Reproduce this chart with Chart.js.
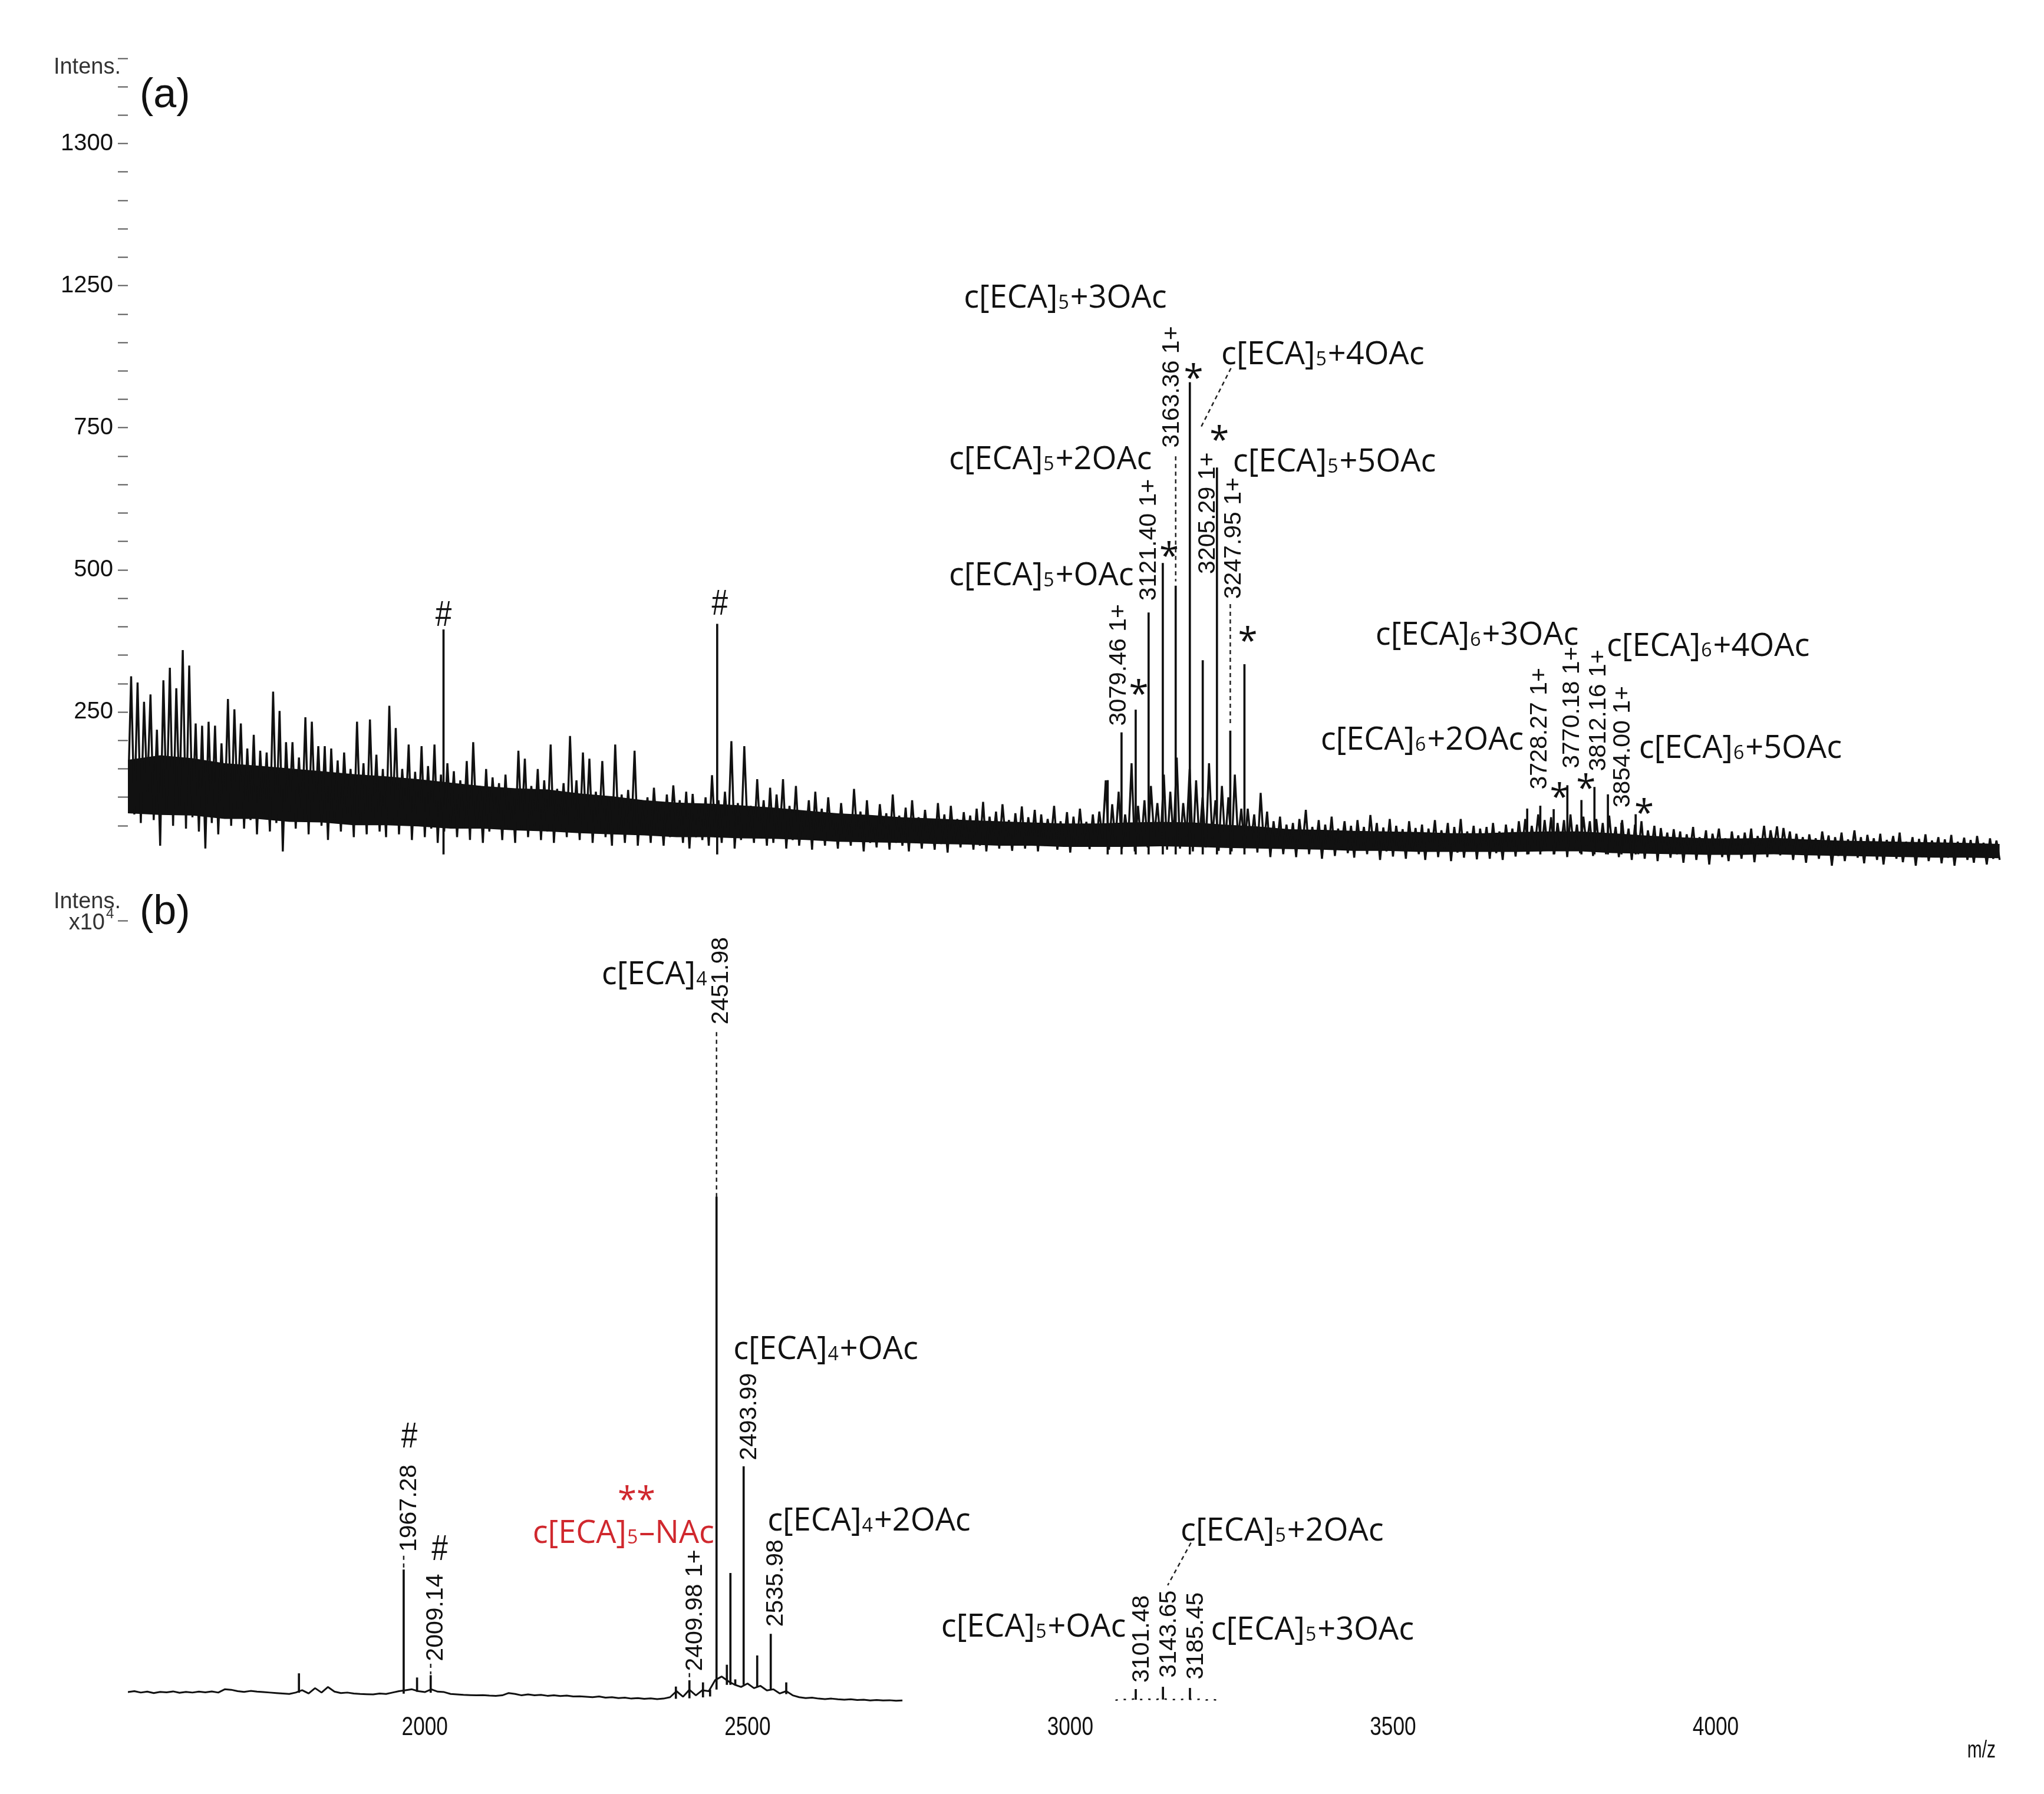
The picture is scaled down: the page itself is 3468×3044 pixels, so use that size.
<!DOCTYPE html>
<html>
<head>
<meta charset="utf-8">
<title>MALDI spectra (a) / (b)</title>
<script src="https://cdn.jsdelivr.net/npm/chart.js@4.4.1/dist/chart.umd.min.js"></script>
<style>
html, body { margin: 0; padding: 0; background: #fff; }
#wrap { position: relative; width: 3468px; height: 3044px; background: #fff; overflow: hidden; }
canvas { position: absolute; left: 0; }
#chartA { top: 0; }
#chartB { top: 1500px; }
</style>
</head>
<body>
<div id="wrap">
  <canvas id="chartA" width="3468" height="1530"></canvas>
  <canvas id="chartB" width="3468" height="1544"></canvas>
</div>
<script>
// m/z range shared by both spectra
const mzMin = 1540;
const mzMax = 4442;

// (a) trace, one value every 5 m/z starting at 1540
const traceAStart = 1540;
const traceAStep = 5;
const traceA = [
  90,313,70,302,55,268,110,281,60,219,15,306,75,328,50,292,85,359,45,332,
  65,230,40,226,10,233,55,226,35,195,70,273,50,255,80,230,45,186,60,210,
  35,182,70,179,40,286,55,252,5,197,75,197,45,170,60,241,35,233,65,190,
  50,190,25,186,60,165,40,179,70,150,30,233,55,160,35,237,60,175,40,150,
  30,261,55,222,35,150,60,193,25,145,50,190,30,155,45,193,20,140,40,160,
  55,146,30,130,45,164,25,197,50,120,20,150,40,135,60,125,25,140,45,115,
  20,182,45,168,30,120,50,150,25,130,40,193,20,115,45,125,30,208,55,130,
  25,179,40,168,20,110,45,164,30,100,15,193,40,105,20,113,35,182,15,95,
  40,100,20,117,35,90,15,105,30,121,45,95,20,110,10,106,30,85,25,100,
  15,139,30,95,20,110,35,199,10,90,25,190,40,85,20,132,30,95,15,117,
  20,105,35,132,10,85,25,120,15,75,30,95,8,110,25,80,15,100,30,70,
  10,90,25,70,15,115,30,75,5,95,20,65,12,88,28,72,8,105,20,68,
  15,82,5,95,22,65,10,78,25,60,8,90,18,70,3,85,20,62,12,74,
  22,68,8,80,15,92,5,66,20,75,10,88,25,60,6,72,18,84,10,65,
  20,78,5,70,15,62,24,85,8,58,18,74,3,66,14,80,22,57,9,70,
  15,75,28,130,8,88,20,110,10,70,25,160,5,85,18,95,12,120,30,90,
  20,140,8,110,25,170,10,90,30,150,5,130,22,100,12,160,28,95,6,120,
  18,100,5,140,25,80,10,80,20,70,3,108,15,75,-5,58,12,66,0,52,
  10,55,-5,62,15,78,0,48,12,60,-8,52,8,66,-3,45,14,58,2,50,
  -6,60,10,48,0,69,12,55,-10,47,5,62,-4,50,9,44,-8,58,6,46,
  0,52,-10,45,8,60,-5,42,10,55,-12,48,3,62,-6,40,7,50,-9,45,
  5,48,-8,55,2,40,-10,52,6,45,-4,58,10,62,0,50,15,70,5,60,
  8,65,0,55,12,60,-5,70,10,52,2,66,15,58,-3,62,8,55,0,68,
  10,48,-5,60,5,45,-10,52,0,58,-8,42,6,50,-12,46,3,38,-6,44,
  0,40,-15,35,5,48,-10,30,2,42,-18,36,8,45,-5,28,-12,40,3,33,
  -8,38,0,45,-14,32,6,50,-5,42,10,49,-2,46,8,40,-10,36,4,30,
  -15,35,0,28,-8,40,5,33,-20,30,-3,38,-12,26,2,42,-6,30,-16,34,
  0,28,-10,36,-18,25,4,32,-8,38,-14,22,0,30,-20,27,-5,35,-12,24,
  2,30,-16,26,-6,34,-20,22,0,29,-10,25,-15,32,-4,20,-18,28,-8,24,
  -10
];

// (a) darkest part of the noise (solid core), lower and upper edge every 50 m/z from 1540
const bandStart = 1540;
const bandStep = 50;
const bandLoA = [72, 69, 68, 62, 62, 57, 56, 51, 51, 49, 45, 45, 42, 40, 37, 35, 33, 30, 30, 28,
                 27, 25, 22, 21, 20, 18, 17, 15, 15, 13, 13, 13, 14, 13, 11, 10, 9, 8, 6, 6,
                 4, 4, 4, 4, 5, 5, 2, 1, 0, -1, -1, 0, -2, -3, -4, -5, -6, -6, -7];
const bandHiA = [166, 174, 169, 160, 156, 151, 146, 141, 137, 132, 126, 120, 116, 114, 107, 102, 95, 91, 89, 86,
                 82, 77, 72, 69, 65, 63, 60, 58, 56, 54, 54, 56, 57, 56, 52, 49, 44, 43, 41, 40,
                 39, 37, 37, 39, 40, 40, 37, 33, 30, 28, 28, 29, 26, 24, 23, 22, 21, 20, 18];

// (a) resolved peaks (m/z, intensity)
const peakMzA = [2029, 2453, 3058, 3079.46, 3101.4, 3121.40, 3143.4, 3163.36, 3185.3, 3205.29, 3227.3, 3247.95, 3269.9,
                 3708, 3728.27, 3749, 3770.18, 3792, 3812.16, 3833, 3854.00, 3876];
const peakIntA = [395, 405, 130, 214, 254, 425, 512, 472, 830, 341, 680, 217, 334,
                  80, 85, 79, 121, 95, 118, 105, 55, 70];

// (a) y tick labels exactly as printed on the axis
const yLabelsA = ['0', '250', '500', '750', '1250', '1300'];

// (b) baseline trace, one value every 10 m/z from 1540, then the small group near 3100-3230
const traceBStart = 1540;
const traceBStep = 10;
const traceB = [
  780, 820, 760, 800, 740, 790, 770, 810, 750, 790,
  760, 800, 770, 810, 760, 900, 880, 820, 790, 830,
  800, 780, 760, 740, 720, 700, 760, 860, 720, 950,
  760, 1000, 800, 740, 760, 720, 700, 690, 680, 720,
  700, 760, 820, 860, 900, 820, 780, 900, 800, 780,
  700, 680, 660, 650, 640, 650, 630, 620, 640, 740,
  700, 640, 680, 640, 660, 620, 640, 610, 630, 590,
  600, 580, 560, 590, 540, 560, 520, 540, 500, 520,
  490, 510, 480, 500, 560, 820, 580, 880, 640, 860,
  820, 1300, 1450, 1250, 1100, 1000, 1150, 950, 1050, 850,
  900, 720, 820, 640, 560, 520, 540, 500, 480, 500,
  470, 450, 470, 440, 450, 420, 440, 420, 430, 410,
  420
];
const traceB2Start = 3070;
const traceB2 = [430, 470, 450, 490, 460, 480, 440, 500, 470, 460, 450, 490, 460, 470, 440, 460, 430];

// (b) resolved peaks: m/z, top and local baseline (counts)
const peakMzB = [1805, 1967.28, 1988, 2009.14, 2389, 2409.98, 2431, 2442, 2451.98, 2468, 2473.5, 2481, 2493.99,
                 2515, 2535.98, 2560, 3101.48, 3143.65, 3185.45];
const peakIntB = [1580, 6050, 1400, 1500, 1010, 1280, 1190, 880, 22100, 1950, 5900, 1320, 10490,
                  2350, 3280, 1190, 900, 1000, 950];
const peakBaseB = [760, 720, 800, 760, 500, 520, 560, 600, 900, 1100, 1100, 1100, 1100,
                   1000, 900, 700, 460, 470, 460];

// (b) tick labels
const xLabelsB = ['2000', '2500', '3000', '3500', '4000'];
const yLabelsB = ['1', '2', '3'];

// ---------------------------------------------------------------
const FONT_TEXT = "'Open Sans', 'Noto Sans', sans-serif";
const FONT_NUM = "'Liberation Sans', Arial, sans-serif";
const INK = '#111';
const RED = '#d0282e';

// annotations, placed in data units (m/z, intensity)
const notesA = [
  { kind: 'text', s: 'c[ECA]_5+3OAc', x: 2835, y: 981 },
  { kind: 'text', s: 'c[ECA]_5+4OAc', x: 3234, y: 882 },
  { kind: 'text', s: 'c[ECA]_5+2OAc', x: 2812, y: 697 },
  { kind: 'text', s: 'c[ECA]_5+5OAc', x: 3252, y: 693 },
  { kind: 'text', s: 'c[ECA]_5+OAc', x: 2812, y: 493 },
  { kind: 'text', s: 'c[ECA]_6+3OAc', x: 3473, y: 388 },
  { kind: 'text', s: 'c[ECA]_6+4OAc', x: 3831, y: 369 },
  { kind: 'text', s: 'c[ECA]_6+2OAc', x: 3388, y: 204 },
  { kind: 'text', s: 'c[ECA]_6+5OAc', x: 3881, y: 189 },
  { kind: 'vert', s: '3079.46 1+', x: 3073, y: 226 },
  { kind: 'vert', s: '3121.40 1+', x: 3119, y: 446 },
  { kind: 'vert', s: '3163.36 1+', x: 3155, y: 715 },
  { kind: 'vert', s: '3205.29 1+', x: 3210, y: 493 },
  { kind: 'vert', s: '3247.95 1+', x: 3251, y: 449 },
  { kind: 'vert', s: '3728.27 1+', x: 3725, y: 114 },
  { kind: 'vert', s: '3770.18 1+', x: 3775, y: 151 },
  { kind: 'vert', s: '3812.16 1+', x: 3816, y: 146 },
  { kind: 'vert', s: '3854.00 1+', x: 3853, y: 82 },
  { kind: 'star', x: 3106, y: 294 },
  { kind: 'star', x: 3153, y: 537 },
  { kind: 'star', x: 3191, y: 850 },
  { kind: 'star', x: 3231, y: 741 },
  { kind: 'star', x: 3275, y: 388 },
  { kind: 'star', x: 3758, y: 113 },
  { kind: 'star', x: 3799, y: 128 },
  { kind: 'star', x: 3889, y: 85 },
  { kind: 'hash', x: 2029, y: 423 },
  { kind: 'hash', x: 2457, y: 443 },
  { kind: 'dash', x: 3163.36, y: 700, x2: 3163.36, y2: 480 },
  { kind: 'dash', x: 3247.95, y: 440, x2: 3247.95, y2: 225 },
  { kind: 'dash', x: 3249, y: 855, x2: 3202, y2: 750 }
];

const notesB = [
  { kind: 'text', s: 'c[ECA]_4', x: 2274, y: 31740 },
  { kind: 'vert', s: '2451.98', x: 2456, y: 29530 },
  { kind: 'text', s: 'c[ECA]_4+OAc', x: 2478, y: 15610 },
  { kind: 'vert', s: '2493.99', x: 2500, y: 10760 },
  { kind: 'text', s: 'c[ECA]_4+2OAc', x: 2531, y: 8220 },
  { kind: 'vert', s: '2535.98', x: 2541, y: 3590 },
  { kind: 'vert', s: '2409.98 1+', x: 2416, y: 1680 },
  { kind: 'star2', x: 2328, y: 9340 },
  { kind: 'text', s: 'c[ECA]_5\u2013NAc', x: 2167, y: 7700, color: RED },
  { kind: 'hash', x: 1976, y: 11850 },
  { kind: 'vert', s: '1967.28', x: 1973, y: 6820 },
  { kind: 'hash', x: 2023, y: 7000 },
  { kind: 'vert', s: '2009.14', x: 2014, y: 2110 },
  { kind: 'text', s: 'c[ECA]_5+OAc', x: 2800, y: 3650 },
  { kind: 'vert', s: '3101.48', x: 3108, y: 1190 },
  { kind: 'vert', s: '3143.65', x: 3150, y: 1400 },
  { kind: 'vert', s: '3185.45', x: 3192, y: 1320 },
  { kind: 'text', s: 'c[ECA]_5+3OAc', x: 3218, y: 3530 },
  { kind: 'text', s: 'c[ECA]_5+2OAc', x: 3171, y: 7790 },
  { kind: 'dash', x: 2451.98, y: 29200, x2: 2451.98, y2: 22100 },
  { kind: 'dash', x: 1967.28, y: 6650, x2: 1967.28, y2: 6050 },
  { kind: 'dash', x: 2009.14, y: 2000, x2: 2009.14, y2: 1550 },
  { kind: 'dash', x: 2409.98, y: 1600, x2: 2409.98, y2: 1300 },
  { kind: 'dash', x: 3187, y: 7210, x2: 3151, y2: 5380 }
];

// text with "_5" style small digits sitting on the baseline
function putText(ctx, str, x, cy, size, color) {
  const base = cy + size * 0.357;
  ctx.fillStyle = color;
  ctx.textAlign = 'left';
  ctx.textBaseline = 'alphabetic';
  let cx = x;
  str.split(/(_\d)/).forEach(p => {
    if (!p) return;
    if (p[0] === '_') {
      ctx.font = Math.round(size * 0.6) + 'px ' + FONT_TEXT;
      ctx.fillText(p[1], cx + 1, base + size * 0.03);
      cx += ctx.measureText(p[1]).width + 3;
    } else {
      ctx.font = size + 'px ' + FONT_TEXT;
      ctx.fillText(p, cx, base);
      cx += ctx.measureText(p).width;
    }
  });
}

// rotated peak label, reading upward from (x, bottom)
function putVert(ctx, str, x, bottom, size) {
  ctx.save();
  ctx.translate(x, bottom);
  ctx.rotate(-Math.PI / 2);
  ctx.font = size + 'px ' + FONT_NUM;
  ctx.fillStyle = INK;
  ctx.textAlign = 'left';
  ctx.textBaseline = 'alphabetic';
  ctx.fillText(str, 0, size * 0.358);
  ctx.restore();
}

// glyph centred on (x, cy), optionally squeezed horizontally
function putMark(ctx, str, x, cy, size, family, color, sx) {
  ctx.save();
  ctx.font = size + 'px ' + family;
  const m = ctx.measureText(str);
  ctx.translate(x, cy);
  ctx.scale(sx || 1, 1);
  ctx.fillStyle = color;
  ctx.textAlign = 'center';
  ctx.textBaseline = 'alphabetic';
  ctx.fillText(str, 0, (m.actualBoundingBoxAscent - m.actualBoundingBoxDescent) / 2);
  ctx.restore();
}

function putPlain(ctx, str, x, base, size, family, color, align, sx) {
  ctx.save();
  ctx.font = size + 'px ' + family;
  ctx.fillStyle = color;
  ctx.textAlign = align || 'left';
  ctx.textBaseline = 'alphabetic';
  ctx.translate(x, base);
  ctx.scale(sx || 1, 1);
  ctx.fillText(str, 0, 0);
  ctx.restore();
}

function makeNotes(items, drawStatic) {
  return {
    id: 'notes',
    afterDraw(chart) {
      const ctx = chart.ctx;
      const xs = chart.scales.x, ys = chart.scales.y;
      ctx.save();
      items.forEach(n => {
        const px = xs.getPixelForValue(n.x);
        const py = ys.getPixelForValue(n.y);
        if (n.kind === 'text') putText(ctx, n.s, px, py, 54, n.color || INK);
        else if (n.kind === 'vert') putVert(ctx, n.s, px, py, 41);
        else if (n.kind === 'star') putMark(ctx, '*', px, py, 60, FONT_TEXT, INK);
        else if (n.kind === 'star2') putMark(ctx, '**', px, py, 58, FONT_TEXT, RED);
        else if (n.kind === 'hash') putMark(ctx, '#', px, py, 62, FONT_NUM, INK, 0.8);
        else if (n.kind === 'dash') {
          ctx.save();
          ctx.strokeStyle = '#222';
          ctx.lineWidth = 2.5;
          ctx.setLineDash([7, 6]);
          ctx.beginPath();
          ctx.moveTo(px, py);
          ctx.lineTo(xs.getPixelForValue(n.x2), ys.getPixelForValue(n.y2));
          ctx.stroke();
          ctx.restore();
        }
      });
      drawStatic(ctx, chart);
      ctx.restore();
    }
  };
}

function stickData(mz, top, base) {
  return mz.map((m, i) => ({ x: m, y: [Array.isArray(base) ? base[i] : base, top[i]] }));
}

function traceData(start, step, values) {
  return values.map((v, i) => ({ x: start + i * step, y: v }));
}

function yAxis(min, max, step, labelFor) {
  return {
    type: 'linear',
    min: min,
    max: max,
    afterFit: s => { s.width = 217; },
    afterBuildTicks: s => { s.ticks = s.ticks.filter(t => t.value >= 0 && t.value % step === 0); },
    ticks: {
      stepSize: step,
      autoSkip: false,
      padding: 8,
      color: INK,
      font: { family: FONT_NUM, size: 40 },
      callback: labelFor
    },
    grid: { drawOnChartArea: false, drawTicks: true, tickLength: 17, tickColor: '#555', tickWidth: 2 },
    border: { display: false }
  };
}

const lineStyle = {
  type: 'line',
  borderColor: INK,
  pointRadius: 0,
  tension: 0,
  borderJoinStyle: 'bevel',
  spanGaps: false,
  fill: false
};

const stickStyle = {
  type: 'bar',
  backgroundColor: INK,
  borderWidth: 0,
  barThickness: 3,
  grouped: false
};

// ---------------- chart (a) ----------------
new Chart(document.getElementById('chartA'), {
  type: 'line',
  data: {
    datasets: [
      Object.assign({}, lineStyle, { data: traceData(traceAStart, traceAStep, traceA), borderWidth: 3.4 }),
      Object.assign({}, stickStyle, { data: stickData(peakMzA, peakIntA, 0) }),
      Object.assign({}, lineStyle, { data: traceData(bandStart, bandStep, bandLoA), borderWidth: 0 }),
      Object.assign({}, lineStyle, { data: traceData(bandStart, bandStep, bandHiA), borderWidth: 0,
                                     fill: '-1', backgroundColor: INK })
    ]
  },
  options: {
    responsive: false,
    devicePixelRatio: 1,
    animation: false,
    events: [],
    layout: { padding: { left: 0, right: 73, top: 99, bottom: 42 } },
    plugins: { legend: { display: false }, tooltip: { enabled: false } },
    scales: {
      x: { type: 'linear', min: mzMin, max: mzMax, display: false, offset: false, grid: { offset: false } },
      y: yAxis(-40, 1400, 50, v => (v % 250 === 0 && v / 250 < yLabelsA.length) ? yLabelsA[v / 250] : '')
    }
  },
  plugins: [makeNotes(notesA, ctx => {
    putPlain(ctx, 'Intens.', 205, 125, 38, FONT_NUM, '#333', 'right');
    putPlain(ctx, '(a)', 237, 182, 70, FONT_NUM, INK, 'left');
  })]
});

// ---------------- chart (b) ----------------
new Chart(document.getElementById('chartB'), {
  type: 'line',
  data: {
    datasets: [
      Object.assign({}, lineStyle, { data: traceData(traceBStart, traceBStep, traceB), borderWidth: 3 }),
      Object.assign({}, lineStyle, { data: traceData(traceB2Start, traceBStep, traceB2), borderWidth: 2.5,
                                     borderDash: [4, 10] }),
      Object.assign({}, stickStyle, { data: stickData(peakMzB, peakIntB, peakBaseB) })
    ]
  },
  options: {
    responsive: false,
    devicePixelRatio: 1,
    animation: false,
    events: [],
    layout: { padding: { left: 0, right: 73, top: 62, bottom: 0 } },
    plugins: { legend: { display: false }, tooltip: { enabled: false } },
    scales: {
      x: {
        type: 'linear',
        min: mzMin,
        max: mzMax,
        offset: false,
        afterFit: s => { s.height = 154; },
        afterBuildTicks: s => { s.ticks = s.ticks.filter(t => t.value % 100 === 0); },
        ticks: { stepSize: 100, display: false, autoSkip: false },
        grid: { offset: false, drawOnChartArea: false, tickLength: 14, tickColor: '#444', tickWidth: 2 },
        border: { display: false }
      },
      y: yAxis(300, 34000, 2000, v => (v % 10000 === 0) ? yLabelsB[v / 10000 - 1] : '')
    }
  },
  plugins: [makeNotes(notesB, (ctx, chart) => {
    const xs = chart.scales.x;
    xLabelsB.forEach(l => {
      putPlain(ctx, l, xs.getPixelForValue(Number(l)), 1444, 44, FONT_NUM, INK, 'center', 0.8);
    });
    putPlain(ctx, 'm/z', 3386, 1482, 40, FONT_NUM, INK, 'right', 0.75);
    putPlain(ctx, 'Intens.', 205, 41, 38, FONT_NUM, '#333', 'right');
    putPlain(ctx, 'x10', 178, 77, 38, FONT_NUM, '#333', 'right');
    putPlain(ctx, '4', 180, 58, 24, FONT_NUM, '#333', 'left');
    putPlain(ctx, '(b)', 237, 68, 70, FONT_NUM, INK, 'left');
  })]
});
</script>
</body>
</html>
